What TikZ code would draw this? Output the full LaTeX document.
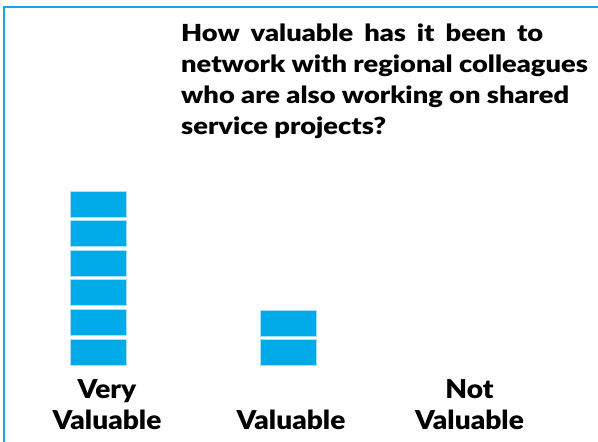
\documentclass[tikz,border=0pt]{standalone}
\usepackage{fontspec}
\setmainfont{Lato}
\newfontfamily\gillish{Lato Black}[FakeStretch=1.08]
\newfontfamily\gillishwide{Lato Black}[FakeStretch=1.16]
\definecolor{votecyan}{RGB}{0,169,232}
\definecolor{framecyan}{RGB}{30,165,225}

\begin{document}
\begin{tikzpicture}
	[x=1pt,y=-1pt,
	vote/.style={rectangle,fill=votecyan,draw=votecyan!35,line width=0.8pt,minimum width=56pt,minimum height=26pt,inner sep=0pt},
	answer/.style={anchor=base,inner sep=0pt,font=\gillish\fontsize{26}{30}\selectfont},
	question/.style={anchor=base west,inner sep=0pt,font=\gillishwide\fontsize{23.5}{30}\selectfont}]
	\clip (0,0) rectangle (598,442);
	\draw[framecyan,line width=2pt] (4,7) rectangle (620,460);
	
	\node[question] (q1) at (181,41.7) {\makebox[362pt][s]{How valuable has it been to}};
	\node[question] (q2) at (181,72.7) {network with regional colleagues};
	\node[question] (q3) at (181,103.3) {who are also working on shared};
	\node[question] (q4) at (181,134) {service projects?};
	
	\foreach \i in {0,...,5}
	\node[vote] (vv\i) at (98.5,352-29.6*\i) {};
	\foreach \i in {0,1}
	\node[vote] (va\i) at (288,352.5-29.3*\i) {};
	
	\node[answer] (very1) at (107,398) {Very};
	\node[answer] (very2) at (107,429.3) {Valuable};
	\node[answer] (val) at (291,429.3) {Valuable};
	\node[answer] (not1) at (469.5,398) {Not};
	\node[answer] (not2) at (469.5,429.3) {Valuable};
\end{tikzpicture}
\end{document}
